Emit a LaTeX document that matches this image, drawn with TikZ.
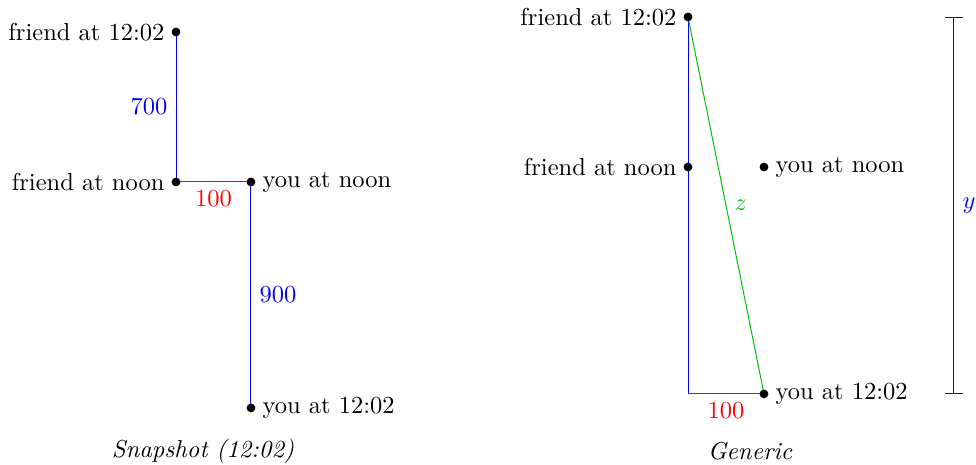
\documentclass[tikz,border=0pt]{standalone}
\usetikzlibrary{arrows.meta,backgrounds}

\tikzset{
  pt/.style={circle, fill=black, inner sep=0pt, minimum size=3.6pt},
  every label/.style={label distance=-0.8pt},
}

\begin{document}
\begin{tikzpicture}
    \useasboundingbox (0,0) rectangle (14.003,6.671);

    % snapshot at 12:02
    \node[pt, label=left:friend at 12:02] (sf12) at (2.525,6.212) {};
    \node[pt, label=left:friend at noon] (sfnoon) at (2.525,4.060) {};
    \node[pt, label=right:you at noon] (synoon) at (3.601,4.060) {};
    \node[pt, label=right:you at 12:02] (sy12) at (3.601,0.818) {};

    \node (snapcap) at (2.912,0.2) {\itshape Snapshot (12:02)};

    % generic
    \node[pt, label=left:friend at 12:02] (gf12) at (9.871,6.428) {};
    \node[pt, label=left:friend at noon] (gfnoon) at (9.871,4.275) {};
    \node[pt, label=right:you at noon] (gynoon) at (10.961,4.275) {};
    \node[pt, label=right:you at 12:02] (gy12) at (10.961,1.019) {};
    \coordinate (corner) at (9.871,1.019);
    \coordinate (ytop) at (13.687,6.428);
    \coordinate (ybot) at (13.687,1.019);

    \node (gencap) at (10.76,0.2) {\itshape Generic};

    \begin{scope}[on background layer]
      \draw[blue] (sf12.center) -- node[left] {700} (sfnoon.center);
      \draw[red] (sfnoon.center) -- node[below] {100} (synoon.center);
      \draw[blue] (synoon.center) -- node[right] {900} (sy12.center);

      \draw[blue] (gf12.center) -- (corner);
      \draw[red] (corner) -- node[below] {100} (gy12.center);
      \draw[green!75!black] (gf12.center) -- node[right] {$z$} (gy12.center);
      \draw[blue, {Bar[width=7pt]}-{Bar[width=7pt]}] (ytop) -- node[right] {$y$} (ybot);
    \end{scope}
\end{tikzpicture}
\end{document}
